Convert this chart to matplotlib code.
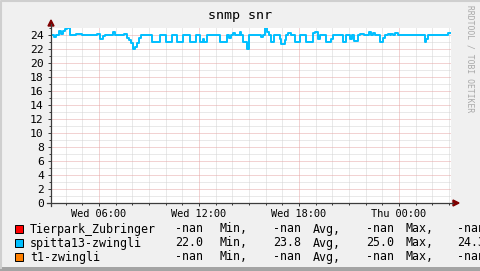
import matplotlib
matplotlib.use("Agg")
import matplotlib.pyplot as plt
from matplotlib.patches import Rectangle, Polygon

# Zeitachse in Stunden ab Mittwoch 00:00 (24 = Donnerstag 00:00)
T_START = 3.12
T_END = 27.12

# spitta13-zwingli: Stufenwerte (Beginn des Abschnitts in Stunden, Wert)
seg_start = [3.12, 3.30, 3.42, 3.63, 3.75, 3.87, 3.96, 4.08, 4.26, 4.62,
             4.98, 5.88, 6.06, 6.24, 6.36, 6.84, 6.96, 7.50, 7.68, 7.80,
             7.92, 8.04, 8.16, 8.28, 8.40, 8.52, 9.18, 9.66, 10.02, 10.38,
             10.68, 11.04, 11.46, 11.82, 12.06, 12.24, 12.30, 12.48, 12.54, 13.26,
             13.68, 13.80, 13.92, 14.04, 14.16, 14.46, 14.52, 14.64, 14.88, 15.00,
             15.72, 15.84, 15.96, 16.08, 16.20, 16.32, 16.50, 16.86, 16.92, 17.16,
             17.22, 17.34, 17.52, 17.76, 18.06, 18.42, 18.84, 18.96, 19.14, 19.26,
             19.62, 19.92, 20.04, 20.64, 20.82, 20.94, 21.06, 21.18, 21.30, 21.42,
             21.54, 21.66, 21.90, 22.20, 22.32, 22.44, 22.56, 22.86, 23.04, 23.16,
             23.34, 23.46, 23.52, 23.64, 23.76, 23.94, 25.56, 25.62, 25.74, 26.94]
seg_value = [24.0, 23.7, 24.0, 24.6, 24.2, 24.6, 24.9, 25.0, 24.0, 24.15,
             24.0, 24.2, 23.4, 23.8, 24.0, 24.4, 24.0, 24.2, 23.6, 23.3,
             22.8, 22.0, 22.3, 22.9, 23.6, 24.0, 23.0, 24.0, 23.0, 24.0,
             23.0, 24.0, 23.0, 24.0, 23.0, 23.5, 23.0, 24.0, 24.0, 23.0,
             24.0, 23.6, 24.0, 24.3, 24.0, 24.5, 24.0, 23.0, 22.0, 24.0,
             23.7, 24.0, 25.0, 24.5, 24.0, 23.0, 24.0, 23.5, 22.7, 23.3,
             24.0, 24.3, 24.0, 23.0, 24.0, 23.0, 24.3, 24.4, 23.5, 24.0,
             23.0, 23.5, 24.0, 23.0, 24.0, 24.0, 23.5, 24.0, 23.2, 23.2,
             24.0, 24.2, 24.0, 24.5, 24.0, 24.3, 24.0, 23.0, 23.6, 24.0,
             24.2, 24.0, 24.2, 24.0, 24.3, 24.0, 23.0, 23.5, 24.0, 24.3]

x_ticks = [6, 12, 18, 24]
x_labels = ["Wed 06:00", "Wed 12:00", "Wed 18:00", "Thu 00:00"]

legend_names = ["Tierpark_Zubringer", "spitta13-zwingli", "t1-zwingli"]
legend_colors = ["#FF0000", "#00BFFF", "#FF8000"]
legend_min = ["-nan", "22.0", "-nan"]
legend_avg = ["-nan", "23.8", "-nan"]
legend_max = ["-nan", "25.0", "-nan"]
legend_last = ["-nan", "24.3", "-nan"]

W, H = 481, 271
BACK = "#F0F0F0"
AXIS = "#3C3C3C"
ARROW = "#7F0000"
MONO = "DejaVu Sans Mono"

fig = plt.figure(figsize=(W / 100, H / 100), dpi=100, facecolor=BACK)

# Plotflaeche: x 51..451 px, y 28..203 px
L, R, T, B = 51, 451, 28, 203
ax = fig.add_axes([L / W, 1 - B / H, (R - L) / W, (B - T) / H])
ax.set_facecolor("white")
ax.set_xlim(T_START, T_END)
ax.set_ylim(0, 25)
for s in ax.spines.values():
    s.set_visible(False)

# Gitter: Nebenlinien grau, Hauptlinien rosa, gepunktet
for h in range(4, 28):
    if h % 6:
        ax.axvline(h, color="#D4D4D4", lw=0.72, dashes=(1, 1), zorder=1)
for v in range(1, 25, 2):
    ax.axhline(v, color="#D4D4D4", lw=0.72, dashes=(1, 1), zorder=1)
for h in x_ticks:
    ax.axvline(h, color="#E6A6A6", lw=0.72, dashes=(1, 1), zorder=1)
for v in range(2, 25, 2):
    ax.axhline(v, color="#E6A6A6", lw=0.72, dashes=(1, 1), zorder=1)

xs = seg_start + [T_END]
ys = seg_value + [seg_value[-1]]
ax.step(xs, ys, where="post", color=legend_colors[1], lw=1.4, zorder=3)

ax.set_yticks(range(0, 25, 2))
ax.set_yticklabels([str(v) for v in range(0, 25, 2)], family=MONO, fontsize=8.2)
ax.set_xticks(x_ticks)
ax.set_xticklabels(x_labels, family=MONO, fontsize=7.4)
ax.set_xticks(range(4, 28), minor=True)
ax.set_yticks(range(0, 26), minor=True)
ax.tick_params(which="major", length=2.2, width=0.72, color=AXIS, pad=3)
ax.tick_params(axis="x", which="major", pad=1.8)
ax.tick_params(which="minor", length=1.4, width=0.72, color=AXIS)

# Overlay in Pixelkoordinaten fuer Achsen, Pfeile, Titel, Legende
ov = fig.add_axes([0, 0, 1, 1], zorder=5)
ov.set_xlim(0, W)
ov.set_ylim(H, 0)
ov.axis("off")
ov.patch.set_alpha(0)

ov.plot([L, L], [B + 3, 24], color=AXIS, lw=0.9)
ov.plot([L - 4, R + 2], [B, B], color=AXIS, lw=0.9)
ov.add_patch(Polygon([(L - 3, 26), (L + 3, 26), (L, 20)], color=ARROW))
ov.add_patch(Polygon([(R + 2, B - 3), (R + 2, B + 3), (R + 8, B)], color=ARROW))

# Rahmen: hell links/oben, dunkler Schatten unten
ov.plot([0.5, 0.5, W], [H - 3, 0.5, 0.5], color="#CFCFCF", lw=1.5)
ov.add_patch(Rectangle((0, H - 4.5), W, 4.5, facecolor="#A4A4A4",
                       edgecolor="none"))

ov.text(W / 2, 19, "snmp snr", family=MONO, fontsize=9.6,
        ha="center", va="baseline", color="black")
ov.text(470, 5, "RRDTOOL / TOBI OETIKER", family=MONO, fontsize=5.8,
        rotation=270, ha="center", va="top", color="#A8A8A8")

# Legende: Spalten wie bei rrdtool (Name, Min, Avg, Max, Letzter Wert)
col_x = [30, 175, 220, 273, 313, 366, 406, 457]
for i, name in enumerate(legend_names):
    yc = 229 + 14 * i
    ov.add_patch(Rectangle((15, yc - 4), 8, 8, facecolor=legend_colors[i],
                           edgecolor="black", lw=0.7))
    parts = [name, legend_min[i], "Min,", legend_avg[i], "Avg,",
             legend_max[i], "Max,", legend_last[i]]
    for x, txt in zip(col_x, parts):
        ov.text(x, yc, txt, family=MONO, fontsize=8.4, ha="left",
                va="center", color="black")

fig.savefig("out.png", dpi=100, facecolor=BACK)
